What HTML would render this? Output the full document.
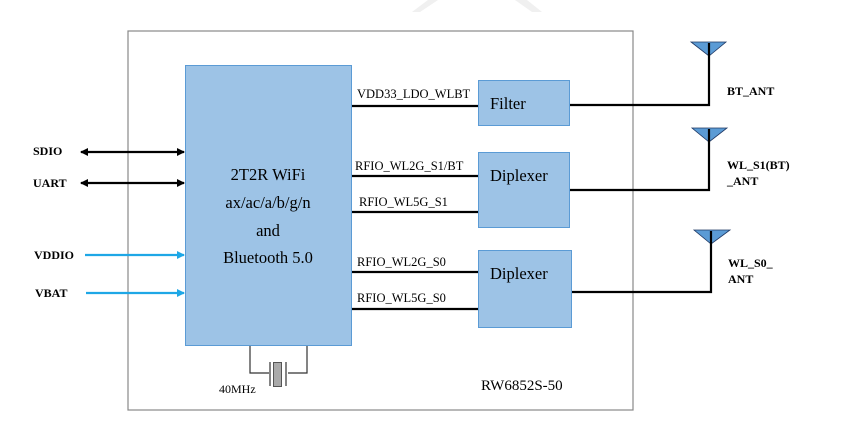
<!DOCTYPE html>
<html><head><meta charset="utf-8"><style>
html,body{margin:0;padding:0;background:#fff;}
svg{display:block;}
text{font-family:"Liberation Serif",serif;}
</style></head><body>
<svg width="863" height="432" viewBox="0 0 863 432" xmlns="http://www.w3.org/2000/svg">
<defs>
<marker id="ak" markerWidth="8" markerHeight="8" refX="7" refY="4" orient="auto-start-reverse" markerUnits="userSpaceOnUse"><path d="M0,0 L8,4 L0,8 Z" fill="#000"/></marker>
<marker id="ab" markerWidth="8" markerHeight="8" refX="7" refY="4" orient="auto" markerUnits="userSpaceOnUse"><path d="M0,0 L8,4 L0,8 Z" fill="#1ea7e6"/></marker>
</defs>
<polygon points="428,0 438,0 420,12 412,12" fill="#f0f0f0"/>
<polygon points="515,0 527,0 542,12 532,12" fill="#f0f0f0"/>
<rect x="128" y="31" width="505" height="379" fill="none" stroke="#888" stroke-width="1.2"/>
<rect x="185.5" y="65.5" width="166" height="280" fill="#9dc3e6" stroke="#5b9bd5"/>
<text x="268" y="180" font-size="16.5" text-anchor="middle">2T2R WiFi</text>
<text x="268" y="208" font-size="16.5" text-anchor="middle">ax/ac/a/b/g/n</text>
<text x="268" y="236" font-size="16.5" text-anchor="middle">and</text>
<text x="268" y="263" font-size="16.5" text-anchor="middle">Bluetooth 5.0</text>
<rect x="478.5" y="80.5" width="91" height="45" fill="#9dc3e6" stroke="#5b9bd5"/>
<text x="490" y="109" font-size="16.5">Filter</text>
<rect x="478.5" y="152.5" width="91" height="75" fill="#9dc3e6" stroke="#5b9bd5"/>
<text x="490" y="181" font-size="16.5">Diplexer</text>
<rect x="478.5" y="250.5" width="93" height="77" fill="#9dc3e6" stroke="#5b9bd5"/>
<text x="490" y="279" font-size="16.5">Diplexer</text>
<g fill="#5b9bd5" stroke="#1f3864" stroke-width="0.8">
<polygon points="691,42 726,42 709,56"/>
<polygon points="692,128 727,128 709,142"/>
<polygon points="694,230 730,230 711,244"/>
</g>
<g stroke="#000" stroke-width="2.2" fill="none">
<line x1="352" y1="106" x2="478" y2="106"/>
<line x1="352" y1="176" x2="478" y2="176"/>
<line x1="352" y1="212" x2="478" y2="212"/>
<line x1="352" y1="272" x2="478" y2="272"/>
<line x1="352" y1="309" x2="478" y2="309"/>
<polyline points="570,105 709,105 709,43"/>
<polyline points="570,190 709,190 709,129"/>
<polyline points="572,292 711,292 711,231"/>
<line x1="81" y1="152" x2="184" y2="152" marker-start="url(#ak)" marker-end="url(#ak)"/>
<line x1="81" y1="183" x2="184" y2="183" marker-start="url(#ak)" marker-end="url(#ak)"/>
</g>
<g stroke="#1ea7e6" stroke-width="2.2">
<line x1="85" y1="255" x2="184" y2="255" marker-end="url(#ab)"/>
<line x1="86" y1="293" x2="184" y2="293" marker-end="url(#ab)"/>
</g>
<g font-size="12" font-weight="bold">
<text x="33" y="155">SDIO</text>
<text x="33" y="187">UART</text>
<text x="34" y="259">VDDIO</text>
<text x="35" y="297">VBAT</text>
<text x="727" y="95">BT_ANT</text>
<text x="727" y="169">WL_S1(BT)</text>
<text x="727" y="185">_ANT</text>
<text x="728" y="267">WL_S0_</text>
<text x="728" y="283">ANT</text>
</g>
<g font-size="12.5">
<text x="357" y="98">VDD33_LDO_WLBT</text>
<text x="355" y="170">RFIO_WL2G_S1/BT</text>
<text x="359" y="206">RFIO_WL5G_S1</text>
<text x="357" y="266">RFIO_WL2G_S0</text>
<text x="357" y="302">RFIO_WL5G_S0</text>
</g>
<text x="219" y="393" font-size="12">40MHz</text>
<text x="481" y="390" font-size="15">RW6852S-50</text>
<g stroke="#333" stroke-width="1.2" fill="none">
<polyline points="250,346 250,373 269,373"/>
<polyline points="307,346 307,373 288,373"/>
<line x1="270" y1="362" x2="270" y2="386"/>
<line x1="286" y1="362" x2="286" y2="386"/>
</g>
<rect x="273.5" y="362.5" width="8" height="24" fill="#aaa" stroke="#555"/>
</svg>
</body></html>
